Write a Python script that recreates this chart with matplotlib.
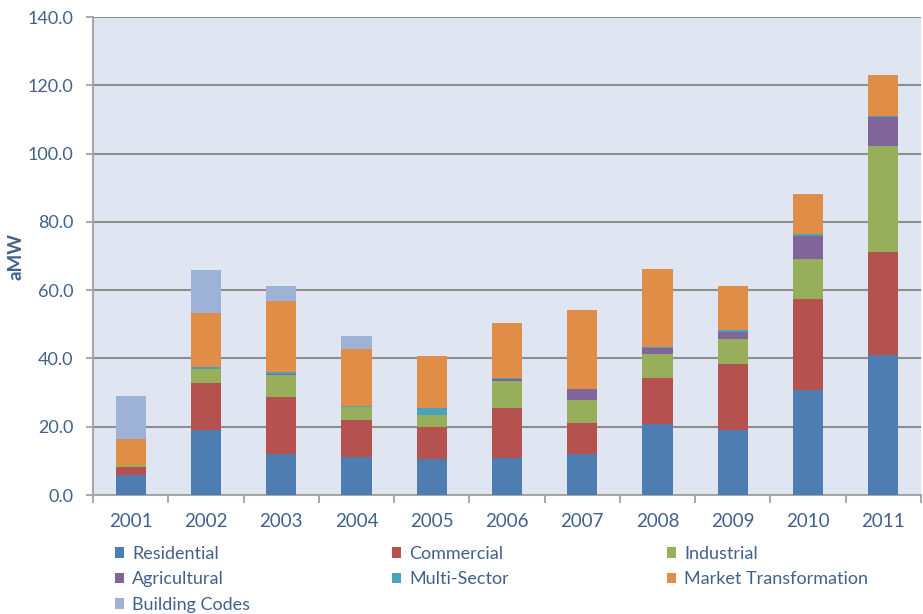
import matplotlib
matplotlib.use("Agg")
import matplotlib.pyplot as plt
import numpy as np

# Data (aMW)
years = ['2001', '2002', '2003', '2004', '2005', '2006', '2007', '2008', '2009', '2010', '2011']
residential = [5.9, 19.0, 11.9, 11.1, 10.5, 10.8, 11.9, 20.9, 18.9, 30.8, 40.9]
commercial = [2.4, 13.8, 16.7, 11.0, 9.5, 14.6, 9.3, 13.3, 19.6, 26.5, 30.2]
industrial = [0.5, 4.0, 6.5, 3.6, 3.4, 8.1, 6.7, 7.0, 7.2, 11.8, 31.1]
agricultural = [0.1, 0.2, 0.4, 0.1, 0.0, 0.5, 3.1, 1.9, 1.9, 6.9, 8.5]
multi_sector = [0.0, 0.4, 0.6, 0.3, 2.1, 0.2, 0.0, 0.3, 0.8, 0.3, 0.3]
market_transformation = [7.6, 15.8, 20.8, 16.6, 15.1, 16.1, 23.2, 22.8, 12.8, 12.0, 11.9]
building_codes = [12.6, 12.8, 4.3, 3.9, 0.0, 0.0, 0.0, 0.0, 0.0, 0.0, 0.0]

series_names = ['Residential', 'Commercial', 'Industrial', 'Agricultural',
                'Multi-Sector', 'Market Transformation', 'Building Codes']
series_values = [residential, commercial, industrial, agricultural,
                 multi_sector, market_transformation, building_codes]
colors = ['#4E7EB1', '#B5514E', '#97AF5A', '#7F6599', '#4BA3BB', '#E08E47', '#9DB2D6']

text_color = '#41618C'
plt.rcParams['font.family'] = ['Lato', 'DejaVu Sans']

fig = plt.figure(figsize=(9.23, 6.14), dpi=100)
ax = fig.add_axes([93 / 923, 119 / 614, 828 / 923, 478 / 614])
ax.set_facecolor('#DFE6F1')

x = np.arange(len(years))
bottom = np.zeros(len(years))
handles = []
for name, vals, col in zip(series_names, series_values, colors):
    vals = np.array(vals)
    b = ax.bar(x, vals, width=0.4, bottom=bottom, color=col, label=name,
               edgecolor='none', zorder=3)
    handles.append(b)
    bottom += vals

ax.set_xlim(-0.5, len(years) - 0.5)
ax.set_ylim(0, 140)
ax.set_yticks(np.arange(0, 141, 20))
ax.set_yticklabels([f'{v:.1f}' for v in np.arange(0, 141, 20)])
ax.yaxis.grid(True, color='#8E8E8E', linewidth=1.5, zorder=0)
ax.set_axisbelow(True)

ax.set_xticks(x)
ax.set_xticklabels(years)
ax.set_xticks(np.arange(-0.5, len(years), 1), minor=True)
ax.tick_params(axis='x', which='major', length=0, pad=13, labelsize=13.5, labelcolor=text_color)
ax.tick_params(axis='x', which='minor', length=6, color='#999999', width=1.2)
ax.tick_params(axis='y', length=5, color='#999999', width=1.2, pad=9,
               labelsize=13, labelcolor=text_color)

for side in ['top', 'right']:
    ax.spines[side].set_visible(False)
for side in ['left', 'bottom']:
    ax.spines[side].set_color('#A6A6A6')
    ax.spines[side].set_linewidth(1.5)

ax.set_ylabel('aMW', color=text_color, fontsize=13.5, fontweight='bold', labelpad=2)

# legend laid out row by row in three columns
col_x = [115 / 923, 392 / 923, 667 / 923]
for c in range(3):
    hs = handles[c::3]
    ls = series_names[c::3]
    fig.legend(hs, ls, loc='upper left', bbox_to_anchor=(col_x[c], 68 / 614),
               frameon=False, fontsize=13, labelcolor=text_color,
               handlelength=0.5, handleheight=0.5, handletextpad=0.45,
               labelspacing=0.52, borderaxespad=0, borderpad=0)

fig.savefig('out.png', dpi=100, facecolor='white')
